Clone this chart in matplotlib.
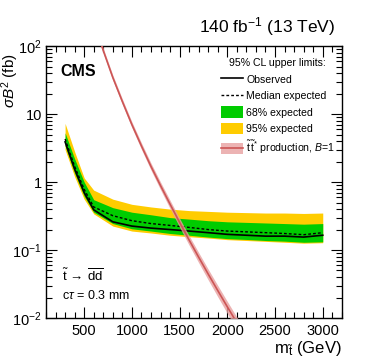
import numpy as np
import matplotlib
matplotlib.use("Agg")
import matplotlib.pyplot as plt
from matplotlib.patches import Patch
from matplotlib.lines import Line2D
from matplotlib.ticker import FixedLocator, FixedFormatter, MultipleLocator, LogLocator, NullFormatter

plt.rcParams['font.family'] = ['Liberation Sans', 'DejaVu Sans']
plt.rcParams['mathtext.fontset'] = 'custom'
plt.rcParams['mathtext.rm'] = 'Liberation Sans'
plt.rcParams['mathtext.it'] = 'Liberation Sans:italic'
plt.rcParams['mathtext.bf'] = 'Liberation Sans:bold'

# ---- data ----
mass = [300, 400, 500, 600, 800, 1000, 1200, 1400, 1600, 1800, 2000, 2200, 2400, 2600, 2800, 3000]
observed = [3.9, 1.55, 0.70, 0.39, 0.26, 0.225, 0.21, 0.20, 0.19, 0.18, 0.17, 0.165, 0.16, 0.16, 0.155, 0.165]
expected = [4.3, 1.70, 0.78, 0.43, 0.32, 0.27, 0.245, 0.23, 0.215, 0.20, 0.19, 0.185, 0.18, 0.175, 0.168, 0.18]
exp68_lo = [3.4, 1.35, 0.62, 0.36, 0.245, 0.205, 0.19, 0.175, 0.165, 0.155, 0.147, 0.143, 0.138, 0.135, 0.13, 0.132]
exp68_hi = [5.3, 2.2, 1.0, 0.55, 0.42, 0.36, 0.33, 0.30, 0.285, 0.27, 0.26, 0.255, 0.25, 0.245, 0.24, 0.245]
exp95_lo = [3.0, 1.2, 0.56, 0.34, 0.225, 0.19, 0.178, 0.165, 0.157, 0.15, 0.142, 0.138, 0.134, 0.13, 0.126, 0.128]
exp95_hi = [7.3, 2.8, 1.15, 0.76, 0.56, 0.47, 0.43, 0.40, 0.38, 0.37, 0.36, 0.355, 0.35, 0.35, 0.345, 0.35]

theo_mass = [600, 700, 800, 900, 1000, 1100, 1200, 1300, 1400, 1500, 1600, 1700, 1800, 1900, 2000, 2100, 2200]
theo_xsec = [235, 86.0, 34.5, 15.3, 7.0, 3.40, 1.70, 0.887, 0.473, 0.255, 0.140, 0.0783, 0.0442, 0.0253, 0.0146, 0.00853, 0.00500]
theo_unc = [0.08, 0.085, 0.09, 0.095, 0.10, 0.11, 0.12, 0.13, 0.14, 0.15, 0.16, 0.17, 0.18, 0.19, 0.20, 0.21, 0.22]

green = '#00cc00'
yellow = '#ffcc00'
red = '#cc5555'
pink = '#e8a0a0'

fig = plt.figure(figsize=(3.74, 3.63), dpi=100)
ax = fig.add_axes([0.123, 0.124, 0.791, 0.749])

ax.fill_between(mass, exp95_lo, exp95_hi, color=yellow, lw=0, zorder=1)
ax.fill_between(mass, exp68_lo, exp68_hi, color=green, lw=0, zorder=2)
ax.plot(mass, expected, color='black', ls=(0, (2, 1.5)), lw=1.0, zorder=3)
ax.plot(mass, observed, color='black', ls='-', lw=1.2, zorder=4)

tm = np.array(theo_mass, float)
tx = np.array(theo_xsec, float)
tu = np.array(theo_unc, float)
ax.fill_between(tm, tx * (1 - tu), tx * (1 + tu), color=pink, alpha=0.8, lw=0, zorder=5)
ax.plot(tm, tx, color=red, lw=1.2, zorder=6)

ax.set_yscale('log')
ax.set_xlim(100, 3200)
ax.set_ylim(1e-2, 1e2)

ax.xaxis.set_minor_locator(MultipleLocator(100))
ax.set_xticks([500, 1000, 1500, 2000, 2500, 3000])
ax.set_xticklabels(['500', '1000', '1500', '2000', '2500', '3000'])
yt = [1e-2, 1e-1, 1, 10, 1e2]
ax.yaxis.set_major_locator(FixedLocator(yt))
ax.yaxis.set_major_formatter(FixedFormatter([r'$10^{-2}$', r'$10^{-1}$', '1', '10', r'$10^{2}$']))
ax.yaxis.set_minor_locator(LogLocator(base=10, subs=np.arange(2, 10)))
ax.yaxis.set_minor_formatter(NullFormatter())

ax.tick_params(which='both', direction='in', top=True, right=True, labelsize=10.5, width=0.8)
ax.tick_params(which='major', length=8)
ax.tick_params(which='minor', length=4)
ax.tick_params(axis='x', pad=4)
ax.tick_params(axis='y', pad=3)
for s in ax.spines.values():
    s.set_linewidth(1.0)

ax.set_xlabel(r'm$_{\tilde{\mathrm{t}}}$ (GeV)', fontsize=12, loc='right', labelpad=1)
ax.set_ylabel(r'$\sigma\mathit{B}^2$ (fb)', fontsize=11, loc='top')
ax.yaxis.set_label_coords(-0.084, 0.975)

ax.text(0.047, 0.935, 'CMS', transform=ax.transAxes, fontsize=11.5, fontweight='bold', va='top', ha='left')
fig.text(0.895, 0.91, r'140 fb$^{-1}$ (13 TeV)', fontsize=12.5, ha='right', va='baseline')

ax.text(0.055, 0.135, r'$\tilde{\mathrm{t}}\,\rightarrow\,\overline{\mathrm{dd}}$', transform=ax.transAxes, fontsize=9.5, ha='left', va='baseline')
ax.text(0.055, 0.068, r'c$\tau$ = 0.3 mm', transform=ax.transAxes, fontsize=9, ha='left', va='baseline')

handles = [
    Line2D([], [], color='black', lw=1.2),
    Line2D([], [], color='black', lw=1.0, ls=(0, (2, 1.5))),
    Patch(facecolor=green, edgecolor='none'),
    Patch(facecolor=yellow, edgecolor='none'),
    (Patch(facecolor=pink, edgecolor='none', alpha=0.8), Line2D([], [], color=red, lw=1.2)),
]
labels = ['Observed', 'Median expected', '68% expected', '95% expected',
          r'$\tilde{\mathrm{t}}\,\tilde{\mathrm{t}}^{*}$ production, $\mathit{B}$=1']
leg = ax.legend(handles, labels, loc='upper left', bbox_to_anchor=(0.59, 0.955),
                frameon=False, fontsize=7.6, title='95% CL upper limits:',
                title_fontsize=7.6, handlelength=2.1, handleheight=1.25,
                handletextpad=0.35, labelspacing=0.5, borderpad=0, borderaxespad=0)
leg._legend_box.align = 'left'
leg.get_title().set_position((8, 0))

fig.savefig('out.png', dpi=100)
